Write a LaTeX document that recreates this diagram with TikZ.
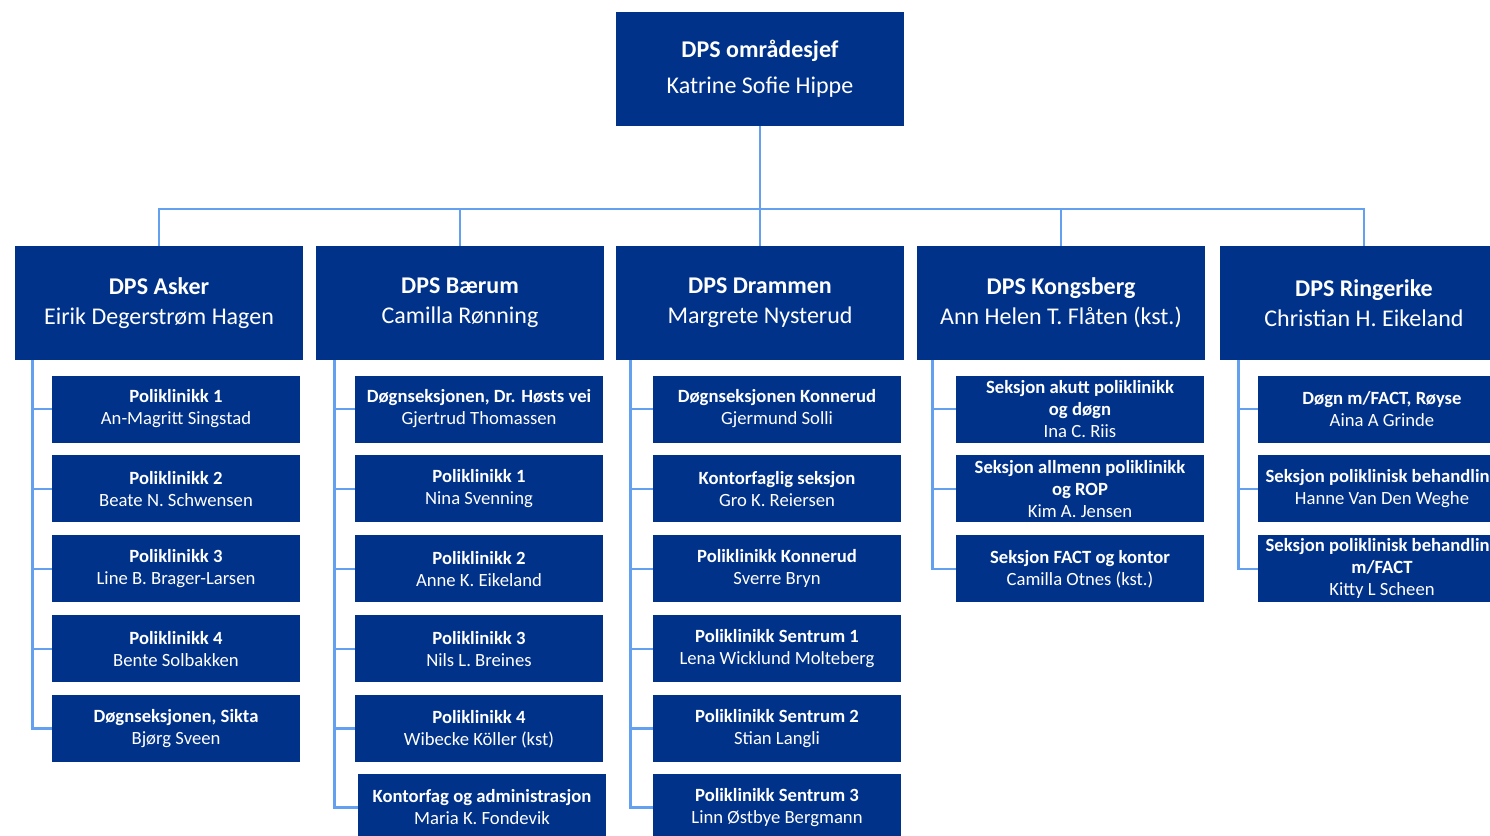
\documentclass[tikz,border=0pt]{standalone}
\usepackage{fontspec}
\setmainfont{Carlito}
\usetikzlibrary{positioning}
\definecolor{dpsblue}{RGB}{0,50,138}
\definecolor{dpsline}{RGB}{100,160,240}

\begin{document}
\begin{tikzpicture}[x=0.75pt, y=-0.75pt,
    chief/.style={fill=dpsblue, text=white, minimum width=216pt, minimum height=85.5pt,
                  inner sep=0pt, align=center, font=\fontsize{18}{27}\selectfont},
    head/.style={chief, font=\fontsize{18}{22.5}\selectfont},
    unit/.style={fill=dpsblue, text=white, minimum width=186pt, minimum height=50.25pt,
                 inner sep=0pt, align=center, font=\fontsize{14}{16.5}\selectfont},
    link/.style={draw=dpsline, line width=2pt}]

    \useasboundingbox (0,0) rectangle (1490,836);

    % top
    \node[chief] (sjef) at (760,69) {\textbf{DPS områdesjef}\\Katrine Sofie Hippe};

    % the five DPS
    \node[head] (asker)     at (159,303)  {\textbf{DPS Asker}\\Eirik Degerstrøm Hagen};
    \node[head] (baerum)    at (460,303)  {\textbf{DPS Bærum}\\Camilla Rønning};
    \node[head] (drammen)   at (760,303)  {\textbf{DPS Drammen}\\Margrete Nysterud};
    \node[head] (kongsberg) at (1061,303) {\textbf{DPS Kongsberg}\\Ann Helen T. Flåten (kst.)};
    \node[head] (ringerike) at (1364,303) {\textbf{DPS Ringerike}\\Christian H. Eikeland};

    \coordinate (bus) at (760,209);
    \draw[link] (sjef) -- (drammen);
    \draw[link] (asker.north) |- (bus) -| (ringerike.north);
    \draw[link] (baerum.north) -- (baerum.north |- bus);
    \draw[link] (kongsberg.north) -- (kongsberg.north |- bus);

    % Asker
    \node[unit, anchor=north west] (a1) at ([shift={(37,15)}]asker.south west) {\textbf{Poliklinikk 1}\\An-Magritt Singstad};
    \node[unit, below=9.3pt of a1] (a2) {\textbf{Poliklinikk 2}\\Beate N. Schwensen};
    \node[unit, below=9.3pt of a2] (a3) {\textbf{Poliklinikk 3}\\Line B. Brager-Larsen};
    \node[unit, below=9.3pt of a3] (a4) {\textbf{Poliklinikk 4}\\Bente Solbakken};
    \node[unit, below=9.3pt of a4] (a5) {\textbf{Døgnseksjonen, Sikta}\\Bjørg Sveen};

    % Baerum
    \node[unit, anchor=north west] (b1) at ([shift={(39,15)}]baerum.south west) {\textbf{Døgnseksjonen, Dr. Høsts vei}\\Gjertrud Thomassen};
    \node[unit, below=9.3pt of b1] (b2) {\textbf{Poliklinikk 1}\\Nina Svenning};
    \node[unit, below=9.3pt of b2] (b3) {\textbf{Poliklinikk 2}\\Anne K. Eikeland};
    \node[unit, below=9.3pt of b3] (b4) {\textbf{Poliklinikk 3}\\Nils L. Breines};
    \node[unit, below=9.3pt of b4] (b5) {\textbf{Poliklinikk 4}\\Wibecke Köller (kst)};
    \node[unit, below=8.25pt of b5, xshift=2.25pt] (b6) {\textbf{Kontorfag og administrasjon}\\Maria K. Fondevik};

    % Drammen
    \node[unit, anchor=north west] (d1) at ([shift={(37,15)}]drammen.south west) {\textbf{Døgnseksjonen Konnerud}\\Gjermund Solli};
    \node[unit, below=9.3pt of d1] (d2) {\textbf{Kontorfaglig seksjon}\\Gro K. Reiersen};
    \node[unit, below=9.3pt of d2] (d3) {\textbf{Poliklinikk Konnerud}\\Sverre Bryn};
    \node[unit, below=9.3pt of d3] (d4) {\textbf{Poliklinikk Sentrum 1}\\Lena Wicklund Molteberg};
    \node[unit, below=9.3pt of d4] (d5) {\textbf{Poliklinikk Sentrum 2}\\Stian Langli};
    \node[unit, below=8.25pt of d5] (d6) {\textbf{Poliklinikk Sentrum 3}\\Linn Østbye Bergmann};

    % Kongsberg
    \node[unit, anchor=north west] (k1) at ([shift={(39,15)}]kongsberg.south west) {\textbf{Seksjon akutt poliklinikk}\\\textbf{og døgn}\\Ina C. Riis};
    \node[unit, below=9.3pt of k1] (k2) {\textbf{Seksjon allmenn poliklinikk}\\\textbf{og ROP}\\Kim A. Jensen};
    \node[unit, below=9.3pt of k2] (k3) {\textbf{Seksjon FACT og kontor}\\Camilla Otnes (kst.)};

    % Ringerike
    \node[unit, anchor=north west] (r1) at ([shift={(38,15)}]ringerike.south west) {\textbf{Døgn m/FACT, Røyse}\\Aina A Grinde};
    \node[unit, below=9.3pt of r1] (r2) {\textbf{Seksjon poliklinisk behandling}\\Hanne Van Den Weghe};
    \node[unit, below=9.3pt of r2] (r3) {\textbf{Seksjon poliklinisk behandling}\\\textbf{m/FACT}\\Kitty L Scheen};

    % spines
    \coordinate (sa) at ([xshift=13.5pt]asker.south west);
    \coordinate (sb) at ([xshift=14.25pt]baerum.south west);
    \coordinate (sd) at ([xshift=11.25pt]drammen.south west);
    \coordinate (sk) at ([xshift=12pt]kongsberg.south west);
    \coordinate (sr) at ([xshift=14.25pt]ringerike.south west);
    \draw[link] (sa) |- (a5.west);
    \foreach \n in {1,...,4}
        \draw[link] (a\n.west) -- (a\n.west -| sa);
    \draw[link] (sb) |- (b6.west);
    \foreach \n in {1,...,5}
        \draw[link] (b\n.west) -- (b\n.west -| sb);
    \draw[link] (sd) |- (d6.west);
    \foreach \n in {1,...,5}
        \draw[link] (d\n.west) -- (d\n.west -| sd);
    \draw[link] (sk) |- (k3.west);
    \foreach \n in {1,2}
        \draw[link] (k\n.west) -- (k\n.west -| sk);
    \draw[link] (sr) |- (r3.west);
    \foreach \n in {1,2}
        \draw[link] (r\n.west) -- (r\n.west -| sr);
\end{tikzpicture}
\end{document}
